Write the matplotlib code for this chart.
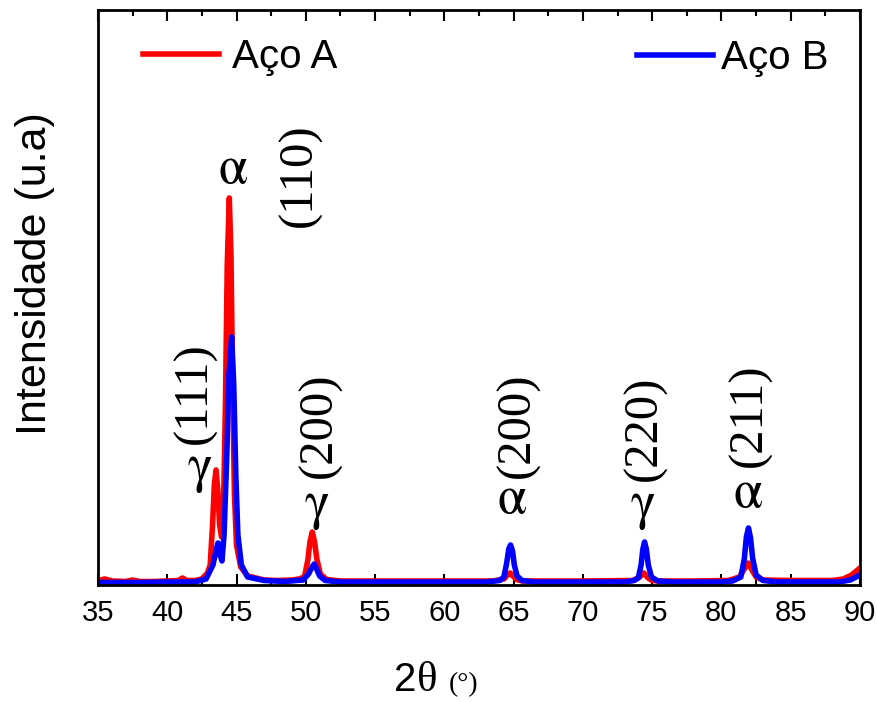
import matplotlib
matplotlib.use("Agg")
import matplotlib.pyplot as plt
from matplotlib.ticker import MultipleLocator
import numpy as np

# 2theta (deg) and intensity (a.u.)
two_theta_a = [35.0, 35.5, 36.0, 37.0, 37.5, 38.0, 39.0, 40.0, 40.8, 41.1, 41.4, 42.0, 42.5,
               42.9, 43.1, 43.27, 43.4, 43.52, 43.65, 43.78, 43.92, 44.05, 44.2, 44.33,
               44.48, 44.6, 44.72, 44.85, 45.0, 45.3, 45.8, 47.0, 48.0, 49.0, 49.5, 49.9,
               50.15, 50.3, 50.47, 50.62, 50.8, 51.05, 51.5, 52.5, 56.0, 60.0, 63.5, 64.3,
               64.55, 64.75, 64.95, 65.2, 65.6, 70.0, 73.6, 74.1, 74.4, 74.7, 75.0, 75.4,
               78.0, 80.5, 81.3, 81.65, 81.94, 82.2, 82.5, 83.0, 85.0, 88.0, 88.8, 89.4, 90.0]
intens_a = [45, 60, 40, 35, 50, 35, 35, 40, 45, 70, 45, 45, 60,
            120, 200, 600, 1000, 1150, 950, 600, 480, 700, 1800, 3200,
            3870, 3300, 2000, 900, 400, 180, 90, 50, 45, 50, 60, 80,
            250, 430, 530, 440, 260, 110, 55, 40, 40, 40, 40, 60,
            100, 120, 90, 55, 40, 40, 45, 80, 120, 70, 45, 40,
            40, 45, 80, 160, 220, 150, 80, 50, 45, 45, 60, 100, 170]

two_theta_b = [35.0, 38.0, 40.0, 42.0, 42.8, 43.3, 43.5, 43.66, 43.82, 43.95, 44.1, 44.3,
               44.45, 44.65, 44.8, 44.95, 45.1, 45.35, 45.8, 47.0, 48.5, 49.8, 50.2, 50.45,
               50.61, 50.78, 51.0, 51.4, 52.5, 56.0, 60.0, 63.0, 64.0, 64.3, 64.5, 64.65,
               64.78, 64.92, 65.05, 65.25, 65.6, 66.5, 70.0, 73.0, 73.7, 74.0, 74.2, 74.33,
               74.45, 74.58, 74.72, 74.95, 75.4, 76.5, 80.0, 80.8, 81.4, 81.65, 81.8, 81.95,
               82.1, 82.25, 82.5, 83.0, 84.0, 88.5, 89.3, 90.0]
intens_b = [25, 25, 30, 30, 60, 200, 330, 420, 300, 240, 500, 1300,
            2100, 2480, 2000, 1100, 500, 200, 80, 45, 35, 50, 110, 180,
            210, 160, 90, 45, 30, 30, 30, 30, 45, 80, 220, 360,
            400, 340, 200, 90, 45, 30, 30, 30, 45, 70, 200, 360,
            430, 360, 200, 80, 40, 30, 30, 40, 80, 260, 480, 570,
            470, 270, 100, 45, 30, 30, 50, 100]

# peak annotations: (2theta, intensity, text)
miller_labels = [(49.58, 4100, "(110)"), (42.0, 1920, "(111)"), (51.02, 1600, "(200)"),
                 (65.31, 1600, "(200)"), (74.48, 1570, "(220)"), (82.06, 1700, "(211)")]
phase_labels = [(44.74, 4150, "α"), (42.36, 1170, "γ"), (50.81, 800, "γ"),
                (64.88, 850, "α"), (74.34, 800, "γ"), (81.91, 910, "α")]

fig = plt.figure(figsize=(8.77, 7.02), dpi=100)
ax = fig.add_axes([0.1117, 0.1667, 0.8689, 0.8191])

l1, = ax.plot(two_theta_a, intens_a, color="#ff0000", lw=4, solid_joinstyle="round")
l2, = ax.plot(two_theta_b, intens_b, color="#0000ff", lw=4, solid_joinstyle="round")

ax.set_xlim(35, 90)
ax.set_ylim(0, 5750)
ax.set_yticks([])
ax.xaxis.set_major_locator(MultipleLocator(5))
ax.xaxis.set_minor_locator(MultipleLocator(2.5))
ax.tick_params(axis="x", which="major", direction="in", length=8, width=1.5,
               top=True, labelsize=21, pad=10)
ax.tick_params(axis="x", which="minor", direction="in", length=4, width=1.5, top=True)
for lab in ax.get_xticklabels():
    lab.set_family("Liberation Sans")
for sp in ax.spines.values():
    sp.set_linewidth(2)

for x, y, t in miller_labels:
    ax.text(x, y, t, rotation=90, ha="center", va="center", fontsize=35,
            family="Liberation Serif")
for x, y, t in phase_labels:
    ax.text(x, y, t, ha="center", va="center", fontsize=38,
            family=["STIXGeneral", "Liberation Serif"])

leg1 = ax.legend(handles=[l1], labels=["Aço A"], loc="center left",
                 bbox_to_anchor=(0.059, 0.918), frameon=False, borderpad=0,
                 borderaxespad=0, handlelength=1.9, handletextpad=0.3,
                 prop={"family": "Liberation Sans", "size": 29})
ax.add_artist(leg1)
ax.legend(handles=[l2], labels=["Aço B"], loc="center left",
          bbox_to_anchor=(0.707, 0.916), frameon=False, borderpad=0,
          borderaxespad=0, handlelength=1.9, handletextpad=0.2,
          prop={"family": "Liberation Sans", "size": 29})

fig.text(35 / 877, (702 - 274) / 702, "Intensidade (u.a)", rotation=90, ha="center",
         va="center", fontsize=31, family="Liberation Sans")
fig.text(394 / 877, 0.016, "2", ha="left", va="baseline", fontsize=29,
         family="Liberation Sans")
fig.text(417 / 877, 0.016, "θ", ha="left", va="baseline", fontsize=31,
         family="Liberation Serif")
fig.text(449 / 877, 0.016, "(°)", ha="left", va="baseline", fontsize=20,
         family="Liberation Serif")

plt.savefig("out.png", dpi=100)
